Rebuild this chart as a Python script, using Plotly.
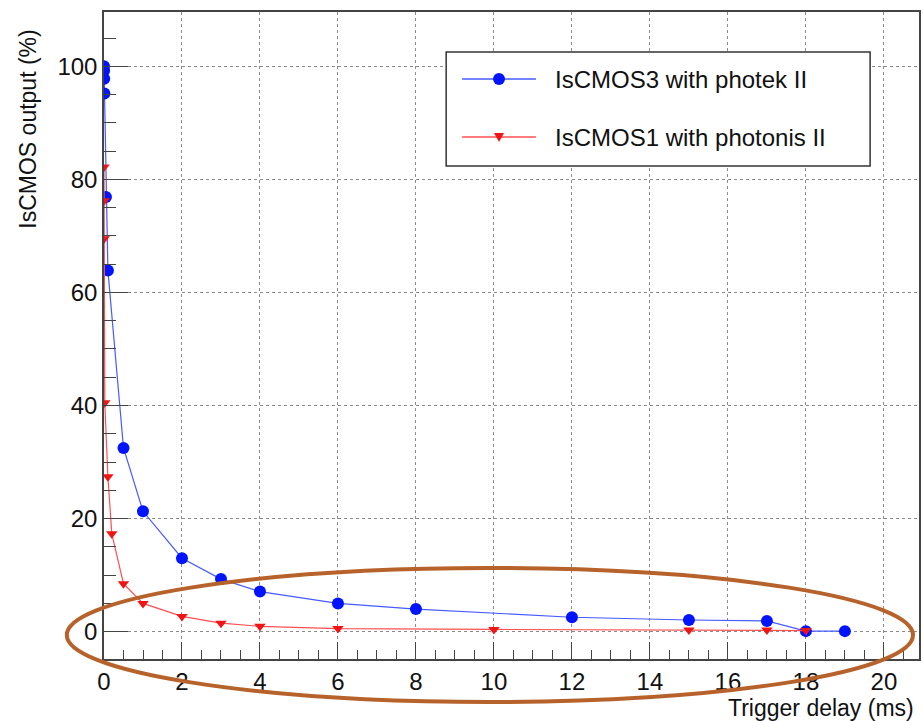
import plotly.graph_objects as go

# Trigger delay (ms) and relative IsCMOS output (%) for each camera / intensifier pair
delay_photek = [0, 0.002, 0.005, 0.01, 0.05, 0.1, 0.5, 1, 2, 3, 4, 6, 8, 12, 15, 17, 18, 19]
output_photek = [100, 99.2, 97.8, 95.2, 76.9, 63.9, 32.5, 21.3, 13.0, 9.3, 7.1, 5.0, 4.0, 2.55, 2.07, 1.9, 0.1, 0.1]

delay_photonis = [0, 0.002, 0.005, 0.02, 0.1, 0.2, 0.5, 1, 2, 3, 4, 6, 10, 15, 17, 18]
output_photonis = [82.2, 76.2, 69.5, 40.5, 27.4, 17.3, 8.5, 5.0, 2.7, 1.5, 0.95, 0.55, 0.4, 0.3, 0.3, 0.2]

series_names = ["IsCMOS3 with photek II", "IsCMOS1 with photonis II"]
x_title = "Trigger delay (ms)"
y_title = "IsCMOS output (%)"

FONT = "Liberation Sans, Arial, Helvetica, sans-serif"
AXIS_COLOR = "#444444"
BLUE_LINE, BLUE_MARK = "rgb(70,90,255)", "rgb(0,20,255)"
RED_LINE, RED_MARK = "rgb(255,80,80)", "rgb(240,20,20)"

# Plot-area size in pixels, used to lay out the boxed key in paper units
W, H = 923, 721
ML, MR, MT, MB = 104, 2, 12, 62
PW, PH = W - ML - MR, H - MT - MB


def px(x):
    return (x - ML) / PW


def py(y):
    return (H - MB - y) / PH


fig = go.Figure()

fig.add_trace(go.Scatter(
    x=delay_photek, y=output_photek, mode="lines+markers",
    name=series_names[0], showlegend=False,
    line=dict(color=BLUE_LINE, width=1.2),
    marker=dict(symbol="circle", size=12, color=BLUE_MARK),
))
fig.add_trace(go.Scatter(
    x=delay_photonis, y=output_photonis, mode="lines+markers",
    name=series_names[1], showlegend=False,
    line=dict(color=RED_LINE, width=1.2),
    marker=dict(symbol="triangle-down", size=10, color=RED_MARK),
))

fig.update_xaxes(
    range=[0, 20.9], dtick=2, tick0=0,
    ticks="inside", ticklen=17, tickwidth=1, tickcolor=AXIS_COLOR,
    minor=dict(dtick=0.5, ticks="inside", ticklen=9, tickcolor=AXIS_COLOR, showgrid=False),
    showline=True, linecolor=AXIS_COLOR, linewidth=1.5, mirror=True,
    showgrid=True, gridcolor="#8a8a8a", griddash="dot", gridwidth=1,
    zeroline=False, tickfont=dict(size=24, color="#111111", family=FONT),
)
fig.update_yaxes(
    range=[-4.83, 109.6], dtick=20, tick0=0,
    ticks="inside", ticklen=24, tickwidth=1, tickcolor=AXIS_COLOR,
    minor=dict(dtick=5, ticks="inside", ticklen=12, tickcolor=AXIS_COLOR, showgrid=False),
    showline=True, linecolor=AXIS_COLOR, linewidth=1.5, mirror=True,
    showgrid=True, gridcolor="#8a8a8a", griddash="dot", gridwidth=1,
    zeroline=False, tickfont=dict(size=24, color="#111111", family=FONT),
)

# Axis titles sit at the far ends of the axes
fig.add_annotation(
    text=x_title, xref="paper", yref="paper", x=px(918), y=py(708),
    xanchor="right", yanchor="middle", showarrow=False,
    font=dict(size=23, color="#111111", family=FONT),
)
fig.add_annotation(
    text=y_title, xref="paper", yref="paper", x=px(27), y=py(28),
    xanchor="center", yanchor="top", textangle=-90, showarrow=False,
    font=dict(size=23, color="#111111", family=FONT),
)

# Boxed key: frame, line samples with their marker, and labels
fig.add_shape(
    type="rect", xref="paper", yref="paper",
    x0=px(447), x1=px(872), y0=py(166), y1=py(52),
    line=dict(color="#333333", width=1.5), fillcolor="white", layer="above",
)
key_rows = [
    (79, BLUE_LINE, BLUE_MARK, "circle", series_names[0]),
    (137, RED_LINE, RED_MARK, "triangle", series_names[1]),
]
for row_y, line_col, mark_col, sym, label in key_rows:
    fig.add_shape(
        type="line", xref="paper", yref="paper",
        x0=px(463), x1=px(537), y0=py(row_y), y1=py(row_y),
        line=dict(color=line_col, width=1.5), layer="above",
    )
    if sym == "circle":
        fig.add_shape(
            type="circle", xref="paper", yref="paper",
            x0=px(494), x1=px(506), y0=py(row_y + 6), y1=py(row_y - 6),
            line=dict(color=mark_col, width=0), fillcolor=mark_col, layer="above",
        )
    else:
        path = "M {:.5f} {:.5f} L {:.5f} {:.5f} L {:.5f} {:.5f} Z".format(
            px(495), py(row_y - 4), px(505), py(row_y - 4), px(500), py(row_y + 5))
        fig.add_shape(
            type="path", xref="paper", yref="paper", path=path,
            line=dict(color=mark_col, width=0), fillcolor=mark_col, layer="above",
        )
    fig.add_annotation(
        text=label, xref="paper", yref="paper", x=px(554), y=py(row_y),
        xanchor="left", yanchor="middle", showarrow=False,
        font=dict(size=24, color="#111111", family=FONT),
    )

# Highlight ring around the long-delay tail
fig.add_shape(
    type="circle", xref="paper", yref="paper",
    x0=px(66.7), x1=px(915), y0=py(702), y1=py(568),
    line=dict(color="rgb(182,98,42)", width=4), layer="above",
)

fig.update_layout(
    width=W, height=H,
    margin=dict(l=ML, r=MR, t=MT, b=MB),
    paper_bgcolor="white", plot_bgcolor="white",
    font=dict(family=FONT, color="#111111"),
    showlegend=False,
)

fig.write_html("out.html")
